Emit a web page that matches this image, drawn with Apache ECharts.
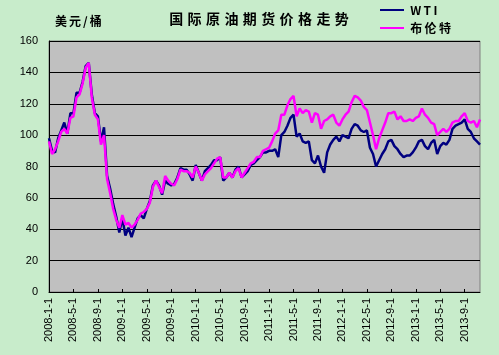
<!DOCTYPE html>
<html>
<head>
<meta charset="utf-8">
<script src="https://cdn.jsdelivr.net/npm/echarts@6/dist/echarts.min.js"></script>
<style>html,body{margin:0;padding:0;background:#C8ECCB;}#c{width:499px;height:355px;}</style>
</head>
<body>
<div id="c"></div>
<script>
const dates = [
'2008-1-1','2008-1-16','2008-2-1','2008-2-16','2008-3-1','2008-3-16','2008-4-1','2008-4-16','2008-5-1','2008-5-16','2008-6-1','2008-6-16','2008-7-1','2008-7-16','2008-8-1','2008-8-16','2008-9-1','2008-9-16','2008-10-1','2008-10-16','2008-11-1','2008-11-16','2008-12-1','2008-12-16',
'2009-1-1','2009-1-16','2009-2-1','2009-2-16','2009-3-1','2009-3-16','2009-4-1','2009-4-16','2009-5-1','2009-5-16','2009-6-1','2009-6-16','2009-7-1','2009-7-16','2009-8-1','2009-8-16','2009-9-1','2009-9-16','2009-10-1','2009-10-16','2009-11-1','2009-11-16','2009-12-1','2009-12-16',
'2010-1-1','2010-1-16','2010-2-1','2010-2-16','2010-3-1','2010-3-16','2010-4-1','2010-4-16','2010-5-1','2010-5-16','2010-6-1','2010-6-16','2010-7-1','2010-7-16','2010-8-1','2010-8-16','2010-9-1','2010-9-16','2010-10-1','2010-10-16','2010-11-1','2010-11-16','2010-12-1','2010-12-16',
'2011-1-1','2011-1-16','2011-2-1','2011-2-16','2011-3-1','2011-3-16','2011-4-1','2011-4-16','2011-5-1','2011-5-16','2011-6-1','2011-6-16','2011-7-1','2011-7-16','2011-8-1','2011-8-16','2011-9-1','2011-9-16','2011-10-1','2011-10-16','2011-11-1','2011-11-16','2011-12-1','2011-12-16',
'2012-1-1','2012-1-16','2012-2-1','2012-2-16','2012-3-1','2012-3-16','2012-4-1','2012-4-16','2012-5-1','2012-5-16','2012-6-1','2012-6-16','2012-7-1','2012-7-16','2012-8-1','2012-8-16','2012-9-1','2012-9-16','2012-10-1','2012-10-16','2012-11-1','2012-11-16','2012-12-1','2012-12-16',
'2013-1-1','2013-1-16','2013-2-1','2013-2-16','2013-3-1','2013-3-16','2013-4-1','2013-4-16','2013-5-1','2013-5-16','2013-6-1','2013-6-16','2013-7-1','2013-7-16','2013-8-1','2013-8-16','2013-9-1','2013-9-16','2013-10-1','2013-10-16','2013-11-1','2013-11-16'
];
const wti = [
98,90,89,98,103,108,101,114,114,127,127,134,144,146,126,114,112,96,105,74,66,56,48,38,
47,36,41,35,41,47,49,47,53,58,68,71,68,62,71,69,68,69,73,79,78,78,75,71,
81,76,71,77,79,81,84,84,86,71,73,76,73,78,80,73,75,77,81,82,84,86,89,89,
90,90,91,86,100,102,106,111,113,99,101,96,95,96,84,82,87,80,76,89,94,97,99,96,
100,99,98,104,107,106,103,102,103,92,88,80,84,88,91,96,97,93,91,88,86,87,87,89,
92,96,97,93,91,95,97,88,93,95,94,97,104,106,107,108,110,104,102,98,96,94
];
const brent = [
96,88,91,96,102,104,101,111,112,124,126,133,143,146,124,113,110,94,100,72,63,53,46,41,
49,43,44,41,43,46,50,51,53,57,67,71,67,63,74,71,69,68,72,78,77,77,76,73,
80,76,71,75,77,79,82,85,86,73,73,76,73,77,79,73,76,79,82,83,86,86,90,91,
92,96,101,103,113,113,119,123,125,112,117,114,116,115,108,114,113,104,109,110,112,113,108,106,
110,113,115,121,125,124,122,118,116,108,100,91,98,103,108,114,114,115,110,112,109,109,110,109,
111,112,117,113,111,108,107,100,102,104,102,104,108,109,109,112,114,109,108,109,105,110
];
const tickLabels = ['2008-1-1','2008-5-1','2008-9-1','2009-1-1','2009-5-1','2009-9-1','2010-1-1','2010-5-1','2010-9-1','2011-1-1','2011-5-1','2011-9-1','2012-1-1','2012-5-1','2012-9-1','2013-1-1','2013-5-1','2013-9-1'];
const yTicks = [0,20,40,60,80,100,120,140,160];
const titleText = '国际原油期货价格走势';
const unitText = '美元/桶';
const seriesNames = ['WTI', '布伦特'];

const spaced = (s, tag) => s.split('').map(c => '{' + tag + '|' + c + '}').join('');
const showTick = (i, v) => tickLabels.indexOf(v) >= 0;
const cjk = 'Noto Sans CJK SC';
const chart = echarts.init(document.getElementById('c'), null, {renderer:'canvas'});
chart.setOption({
  backgroundColor: '#C8ECCB',
  animation: false,
  title: [
    {text: spaced(titleText, 'c'), left: 167, top: 12, padding: 0,
     textStyle: {fontFamily: cjk, fontWeight: 'bold', fontSize: 14, color: '#000',
       rich: {c: {fontFamily: cjk, fontWeight: 'bold', fontSize: 14, color: '#000', padding: [0, 2.2, 0, 2.2]}}}},
    {text: spaced(unitText, 'u'), left: 54, top: 15, padding: 0,
     textStyle: {fontFamily: cjk, fontWeight: 'bold', fontSize: 12, color: '#000',
       rich: {u: {fontFamily: cjk, fontWeight: 'bold', fontSize: 12, color: '#000', padding: [0, 1, 0, 1]}}}}
  ],
  legend: {
    orient: 'vertical', left: 380, top: 3, padding: 0, itemGap: 4,
    icon: 'rect', itemWidth: 24, itemHeight: 2,
    data: seriesNames,
    formatter: name => spaced(name, 'l'),
    textStyle: {fontFamily: cjk, fontWeight: 'bold', fontSize: 12, color: '#000', lineHeight: 14,
      rich: {l: {fontFamily: cjk, fontWeight: 'bold', fontSize: 12, color: '#000', lineHeight: 14, padding: [0, 1.2, 0, 1.2]}}}
  },
  grid: {left: 49, right: 19, top: 41, bottom: 63, show: true, backgroundColor: '#C0C0C0', borderColor: '#808080', borderWidth: 1, containLabel: false},
  xAxis: {
    type: 'category', data: dates, boundaryGap: false,
    axisLine: {lineStyle: {color: '#000', width: 1}},
    axisTick: {show: true, inside: true, length: 3, interval: showTick, lineStyle: {color: '#000'}},
    axisLabel: {interval: showTick, rotate: 90, margin: 6, color: '#000', fontSize: 11, fontFamily: 'Liberation Sans'},
    splitLine: {show: false}
  },
  yAxis: {
    type: 'value', min: yTicks[0], max: yTicks[yTicks.length-1], interval: 20,
    axisLine: {show: true, lineStyle: {color: '#000', width: 1}},
    axisTick: {show: true, inside: true, length: 3, lineStyle: {color: '#000'}},
    axisLabel: {margin: 11, color: '#000', fontSize: 11, fontFamily: 'Liberation Sans'},
    splitLine: {show: true, lineStyle: {color: '#000', width: 1}}
  },
  series: [
    {name: seriesNames[0], type: 'line', data: wti, showSymbol: false, symbol: 'none', color: '#000080', lineStyle: {width: 2.5, color: '#000080'}},
    {name: seriesNames[1], type: 'line', data: brent, showSymbol: false, symbol: 'none', color: '#FF00FF', lineStyle: {width: 2.5, color: '#FF00FF'}}
  ]
});
</script>
</body>
</html>
